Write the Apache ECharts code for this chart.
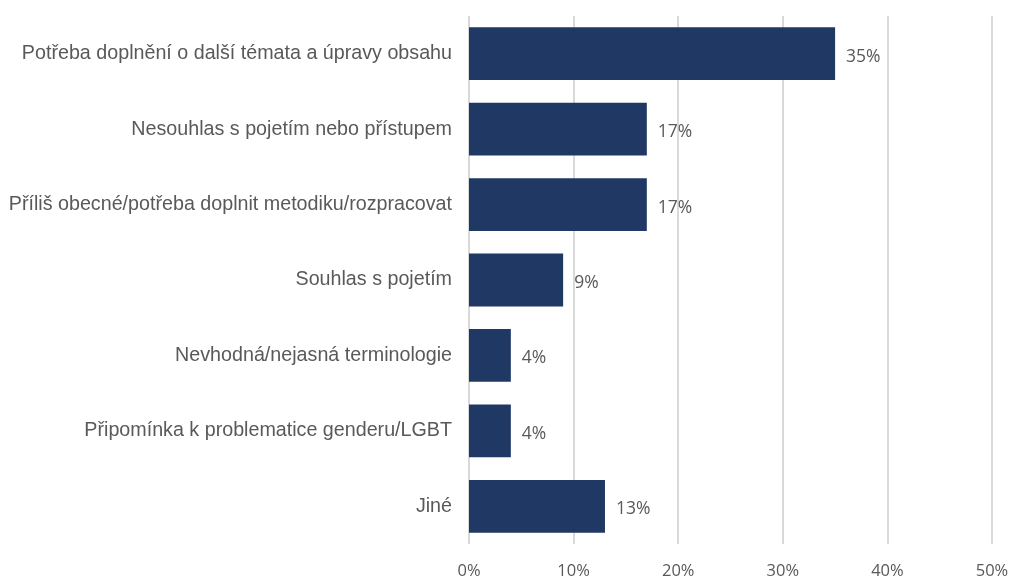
<!DOCTYPE html>
<html>
<head>
<meta charset="utf-8">
<script src="https://cdn.jsdelivr.net/npm/echarts@6/dist/echarts.min.js"></script>
<style>
  html, body { margin: 0; padding: 0; background: #fff; }
  #chart { width: 1013px; height: 580px; }
</style>
</head>
<body>
<div id="chart"></div>
<script>
// categories, top to bottom as in the picture
const categories = [
    'Potřeba doplnění o další témata a úpravy obsahu',
    'Nesouhlas s pojetím nebo přístupem',
    'Příliš obecné/potřeba doplnit metodiku/rozpracovat',
    'Souhlas s pojetím',
    'Nevhodná/nejasná terminologie',
    'Připomínka k problematice genderu/LGBT',
    'Jiné'
];
const shares = [35, 17, 17, 9, 4, 4, 13];
const xTicks = [0, 10, 20, 30, 40, 50];

var myChart = echarts.init(document.getElementById('chart'));
var option = {
    animation: false,
    grid: {
        left: 469,
        right: 21,
        top: 16,
        bottom: 35
    },
    xAxis: {
        type: 'value',
        min: xTicks[0],
        max: xTicks[xTicks.length - 1],
        interval: 10,
        axisLine: { show: false },
        axisTick: { show: false },
        splitLine: { lineStyle: { color: '#d9d9d9', width: 2 } },
        axisLabel: {
            formatter: '{value}%',
            color: '#595959',
            fontFamily: 'Open Sans',
            fontSize: 16.5,
            margin: 19
        }
    },
    yAxis: {
        type: 'category',
        inverse: true,
        data: categories,
        axisLine: { show: false },
        axisTick: { show: false },
        axisLabel: {
            color: '#595959',
            fontFamily: 'Liberation Sans',
            fontSize: 19.7,
            margin: 17
        }
    },
    series: [
        {
            type: 'bar',
            data: shares,
            barCategoryGap: '30%',
            itemStyle: { color: '#203864' },
            label: {
                show: true,
                position: 'right',
                distance: 11,
                formatter: '{c}%',
                color: '#595959',
                fontFamily: 'Open Sans',
                fontSize: 17.5,
                offset: [0, 3]
            }
        }
    ]
};
myChart.setOption(option);
window.addEventListener('resize', function() {
    myChart.resize();
});
</script>
</body>
</html>
